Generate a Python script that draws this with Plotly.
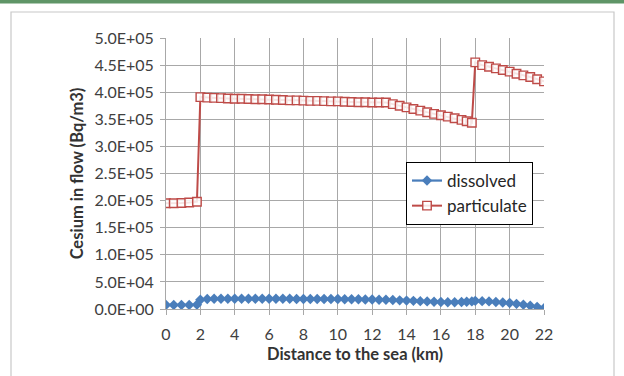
import plotly.graph_objects as go

# ---- data ----
distance_km = [
    0.0, 0.45, 0.9, 1.35, 1.8,
    2.0, 2.4, 2.8, 3.2, 3.6, 4.0, 4.4, 4.8, 5.2, 5.6, 6.0, 6.4, 6.8, 7.2, 7.6,
    8.0, 8.4, 8.8, 9.2, 9.6, 10.0, 10.4, 10.8, 11.2, 11.6, 12.0, 12.4, 12.8,
    13.2, 13.6, 14.0, 14.4, 14.8, 15.2, 15.6, 16.0, 16.4, 16.8, 17.2, 17.5, 17.8,
    18.0, 18.4, 18.8, 19.2, 19.6, 20.0, 20.4, 20.8, 21.2, 21.6, 22.0,
]
dissolved = [
    7500, 7500, 7500, 7500, 8000,
    17000, 18500, 19000, 19000, 19000, 19000, 19000, 19000, 19000, 19000, 19000,
    19000, 19000, 19000, 18500, 18500, 18500, 18500, 18500, 18500, 18500, 18000,
    18000, 18000, 17500, 17500, 17000, 17000, 16500, 16000, 15500, 15000, 14500,
    14000, 13500, 13000, 12500, 12500, 13000, 13500, 14000,
    15000, 14500, 14000, 13000, 12000, 11000, 9500, 8000, 6000, 4000, 1500,
]
particulate = [
    195000, 195000, 195500, 196500, 198000,
    391000, 390000, 389500, 389000, 388500, 388000, 388000, 387500, 387000, 387000,
    386500, 386000, 385500, 385000, 385000, 384500, 384000, 384000, 383500, 383000,
    383000, 382500, 382000, 381500, 381500, 381000, 381000, 381000, 378000, 375000,
    372000, 369000, 366000, 363000, 360000, 357500, 355000, 352000, 349000, 346500,
    343500,
    455000, 450000, 447000, 444000, 441000, 438000, 434000, 431000, 428000, 424000,
    420000,
]
x_ticks = [0, 2, 4, 6, 8, 10, 12, 14, 16, 18, 20, 22]
y_ticks = [0, 50000, 100000, 150000, 200000, 250000, 300000, 350000, 400000, 450000, 500000]
y_tick_labels = ["0.0E+00", "5.0E+04", "1.0E+05", "1.5E+05", "2.0E+05", "2.5E+05",
                 "3.0E+05", "3.5E+05", "4.0E+05", "4.5E+05", "5.0E+05"]

FONT = "Lato, 'Open Sans', sans-serif"
W, H = 624, 376
L, R, T, B = 166, 80, 38, 67
PW, PH = W - L - R, H - T - B


def px(xp):
    return (xp - L) / PW


def py(yp):
    return (H - B - yp) / PH


fig = go.Figure()
fig.add_trace(go.Scatter(
    x=distance_km, y=dissolved, name="dissolved", mode="lines+markers",
    line=dict(color="#4A7EBB", width=2.25),
    marker=dict(symbol="diamond", size=8, color="#4A7EBB"),
))
fig.add_trace(go.Scatter(
    x=distance_km, y=particulate, name="particulate", mode="lines+markers",
    line=dict(color="#BE4B48", width=2),
    marker=dict(symbol="square", size=8.5, color="rgba(255,255,255,0.85)",
                line=dict(color="#BE4B48", width=1.4)),
))

grid = "#a8a8a8"
fig.update_xaxes(
    range=[0, 22], tickvals=x_ticks, ticktext=[str(v) for v in x_ticks],
    showgrid=True, gridcolor=grid, gridwidth=1, zeroline=False,
    showline=True, linecolor=grid, linewidth=1, mirror=False,
    ticks="outside", ticklen=5, tickcolor=grid, ticklabelstandoff=6,
    tickfont=dict(family=FONT, size=16, color="#404040"),
    title=dict(text="<b>Distance to the sea (km)</b>", standoff=6,
               font=dict(family=FONT, size=16.5, color="#333333")),
)
fig.update_yaxes(
    range=[0, 500000], tickvals=y_ticks, ticktext=y_tick_labels,
    showgrid=True, gridcolor=grid, gridwidth=1, zeroline=False,
    showline=True, linecolor=grid, linewidth=1,
    ticks="outside", ticklen=5, tickcolor=grid, ticklabelstandoff=3,
    tickfont=dict(family=FONT, size=16, color="#404040"),
    title=dict(text="<b>Cesium in flow (Bq/m3)</b>", standoff=6,
               font=dict(family=FONT, size=16.5, color="#333333")),
)

fig.update_layout(
    width=W, height=H, autosize=False,
    margin=dict(l=L, r=R, t=T, b=B, pad=0),
    paper_bgcolor="white", plot_bgcolor="white",
    showlegend=True,
    legend=dict(
        x=px(406), y=py(162), xanchor="left", yanchor="top",
        bgcolor="white", bordercolor="#000000", borderwidth=1,
        font=dict(family=FONT, size=17, color="#262626"),
        tracegroupgap=0,
    ),
    shapes=[
        dict(type="rect", xref="paper", yref="paper",
             x0=px(11), x1=px(614), y0=py(12), y1=py(400),
             line=dict(color="#c8c8c8", width=1.2), fillcolor="rgba(0,0,0,0)",
             layer="below"),
        dict(type="rect", xref="paper", yref="paper",
             x0=px(-5), x1=px(630), y0=py(-5), y1=py(3.5),
             line=dict(width=0), fillcolor="#5f9567", layer="above"),
    ],
)

fig.write_html("out.html",
               config={"displayModeBar": False},
               post_script="document.body.style.margin='0px';document.body.style.overflow='hidden';")
